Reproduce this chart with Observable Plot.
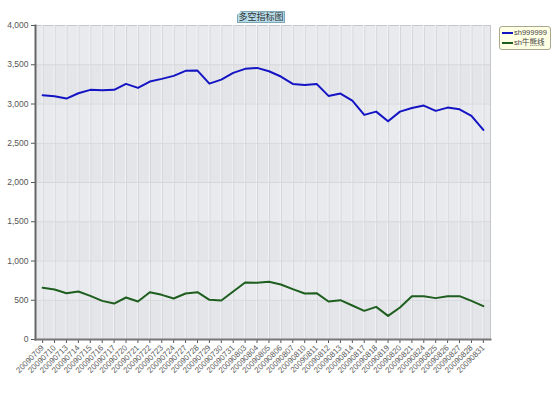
<!DOCTYPE html>
<html>
<head>
<meta charset="utf-8">
<script src="https://cdn.jsdelivr.net/npm/d3@7"></script>
<script src="https://cdn.jsdelivr.net/npm/@observablehq/plot@0.6"></script>
<style>
  html, body { margin: 0; padding: 0; background: #fff; }
  #wrap { position: relative; width: 560px; height: 395px; font-family: "Liberation Sans", "Noto Sans CJK SC", sans-serif; }
  #title { position: absolute; left: 237px; top: 11px; width: 48px; height: 12px; background: #b5dbe8; color: #333;
           font-size: 9px; line-height: 12px; text-align: center; font-family: "Noto Sans CJK SC", sans-serif;
           clip-path: polygon(4px 0, 100% 0, 100% 100%, 0 100%, 0 4px); box-shadow: inset 0 0 0 1px #7fa9b8; }
  #legend { position: absolute; left: 499px; top: 26px; width: 50px; height: 22px; background: #ffffe4;
            border: 1px solid #a8a890; border-radius: 3px; font-size: 7.5px; color: #444; }
  .row { position: absolute; left: 2px; height: 10px; line-height: 10px; white-space: nowrap; font-family: "Liberation Sans", "Noto Sans CJK SC", sans-serif; }
  .sw { display: inline-block; width: 11px; height: 2px; vertical-align: middle; margin-right: 1px; }
</style>
</head>
<body>
<div id="wrap"></div>
<script>
const dates = ["20090709","20090710","20090713","20090714","20090715","20090716","20090717","20090720","20090721","20090722","20090723","20090724","20090727","20090728","20090729","20090730","20090731","20090803","20090804","20090805","20090806","20090807","20090810","20090811","20090812","20090813","20090814","20090817","20090818","20090819","20090820","20090821","20090824","20090825","20090826","20090827","20090828","20090831"];
const sh999999 = [3111,3098,3069,3137,3180,3175,3180,3256,3205,3286,3320,3358,3422,3426,3260,3311,3397,3448,3460,3417,3350,3256,3243,3256,3103,3133,3043,2861,2903,2779,2903,2950,2980,2912,2954,2932,2848,2670];
const shBull = [658,637,590,611,556,492,458,535,484,603,569,522,586,603,505,496,611,726,722,735,700,641,586,590,484,501,433,365,416,301,407,552,552,527,552,552,492,425];
const yTicks = [0,500,1000,1500,2000,2500,3000,3500,4000];
const seriesNames = ["sh999999","sh牛熊线"];
const seriesColors = ["#1414c4","#1e5e1e"];
const titleText = "多空指标图";

const rows = dates.flatMap((d, i) => [
  {date: d, value: sh999999[i], series: seriesNames[0]},
  {date: d, value: shBull[i], series: seriesNames[1]}
]);
const bands = yTicks.slice(0, -1).map((t, i) => ({y1: t, y2: yTicks[i + 1], k: i % 2}));

const chart = Plot.plot({
  width: 560, height: 395,
  marginLeft: 35, marginRight: 70, marginTop: 25, marginBottom: 56,
  style: {fontSize: "8px", fontFamily: "Liberation Sans, sans-serif", color: "#555", background: "transparent"},
  x: {type: "point", domain: dates, padding: 0.6, label: null},
  y: {domain: [0, 4000], label: null},
  color: {domain: seriesNames, range: seriesColors},
  marks: [
    Plot.rect(bands, {y1: "y1", y2: "y2", fill: d => d.k ? "#e8eaee" : "#e4e5e8"}),
    Plot.frame({fill: "none", stroke: "#c4c6ca"}),
    Plot.ruleX(dates, {stroke: "#d2d4d9", strokeWidth: 1, dx: 0.5}),
    Plot.ruleX(dates, {stroke: "#f2f3f5", strokeWidth: 1, dx: -0.5}),
    Plot.ruleY(yTicks.slice(1, -1), {stroke: "#d6d7da"}),
    Plot.axisX({tickRotate: -45, tickSize: 4, stroke: "#555", fill: "#606060", fontSize: 8, tickPadding: 3}),
    Plot.axisY({ticks: yTicks, tickFormat: d3.format(","), tickSize: 4, stroke: "#555", fill: "#555", fontSize: 8.5, tickPadding: 3}),
    Plot.frame({anchor: "left", stroke: "#666", strokeWidth: 2}),
    Plot.frame({anchor: "bottom", stroke: "#777", strokeWidth: 2}),
    Plot.line(rows, {x: "date", y: "value", z: "series", stroke: "series", strokeWidth: 2})
  ]
});
const wrap = document.getElementById("wrap");
wrap.appendChild(chart);

const t = document.createElement("div");
t.id = "title"; t.textContent = titleText;
wrap.appendChild(t);

const lg = document.createElement("div");
lg.id = "legend";
seriesNames.forEach((n, i) => {
  const r = document.createElement("div");
  r.className = "row"; r.style.top = (1 + i * 10) + "px";
  r.innerHTML = `<span class="sw" style="background:${seriesColors[i]}"></span>${n}`;
  lg.appendChild(r);
});
wrap.appendChild(lg);
</script>
</body>
</html>
